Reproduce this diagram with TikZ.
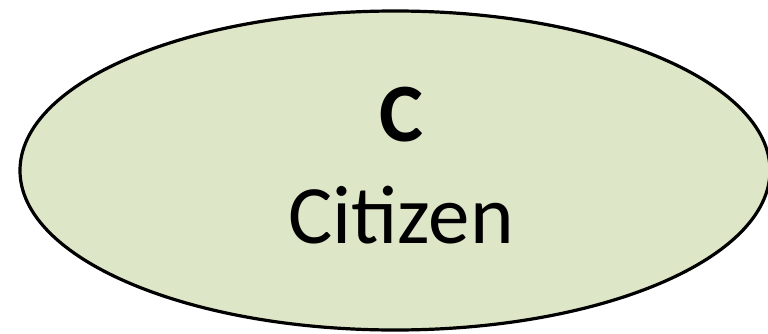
\documentclass[tikz,border=0pt]{standalone}
\usepackage{fontspec}
\setmainfont{Carlito}
\usetikzlibrary{shapes.geometric}
\definecolor{oliveFill}{RGB}{222,230,200}
\tikzset{
  entity/.style={ellipse, draw=black, line width=3.2pt, fill=oliveFill,
    inner sep=0pt, minimum width=750pt, minimum height=319pt},
  label/.style={anchor=base, inner sep=0pt, font=\fontsize{83}{98}\selectfont}
}
\begin{document}
\begin{tikzpicture}[x=1pt,y=1pt]
  \clip (0,0) rectangle (768,333);
  \useasboundingbox (0,0) rectangle (768,333);
  \node[entity] (citizen) at (395,162.5) {};
  \node[label] (code) at (401,192) {\bfseries C};
  \node[label] (name) at (401,90) {Citizen};
\end{tikzpicture}
\end{document}
